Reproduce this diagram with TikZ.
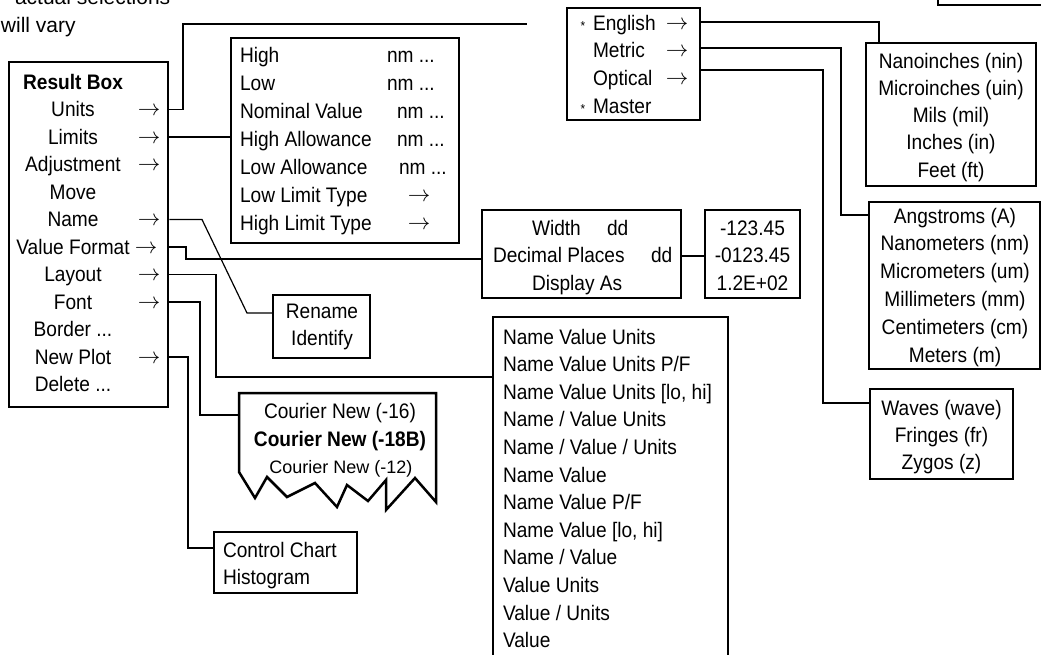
\documentclass[tikz,border=0pt]{standalone}
\usepackage{fontspec}
\setmainfont[FakeStretch=0.91]{Liberation Sans}
\newfontfamily\plainsans{Liberation Sans}
\newcommand\mybox[5]{\node[box, minimum width={#4-#2}, minimum height={#5-#3}] (#1) at ({(#2+#4)/2},{(#3+#5)/2}) {};}
\newcommand\tdots{...}
\newcommand\rarr{\resizebox{22.5pt}{!}{$\rightarrow$}}
\begin{document}
\begin{tikzpicture}[x=1pt,y=-1pt,
  font=\fontsize{21}{27}\selectfont,
  box/.style={draw, line width=2.5pt, inner sep=0pt},
  wire/.style={line width=1.2pt},
  lb/.style={anchor=base, inner sep=0pt, outer sep=0pt},
  lbw/.style={anchor=base west, inner sep=0pt, outer sep=0pt}]
\useasboundingbox (0,0) rectangle (1041,654);
\clip (0,0) rectangle (1041,654);

% note
\node[lbw, font=\plainsans\fontsize{21}{27}\selectfont] (note1) at (15,4) {actual selections};
\node[lbw, font=\plainsans\fontsize{21}{27}\selectfont] (note2) at (1,32) {will vary};

% boxes
\mybox{rb}{9}{62}{168}{407}
\mybox{lim}{231}{38}{459}{243}
\mybox{eng}{567}{8}{700}{120}
\mybox{nano}{866}{43}{1036}{186}
\mybox{ang}{869}{202}{1040}{369}
\mybox{wav}{870}{389}{1013}{479}
\mybox{wid}{482}{210}{681}{298}
\mybox{val}{705}{210}{800}{298}
\mybox{ren}{273}{295}{370}{358}
\mybox{lay}{493}{317}{728}{700}
\mybox{cc}{214}{532}{357}{593}
\mybox{topb}{938}{-40}{1060}{5}

% font box with torn bottom
\draw[line width=2.5pt, line join=miter] (436,393) -- (239,393) -- (239,472) -- (255,498) -- (267,477) -- (287,497) -- (315,483) -- (337,507) -- (347,485) -- (368,501) -- (386,480) -- (386,510) -- (415,478) -- (436,502) -- cycle;
\coordinate (fontin) at (239,415);

% Result box
\foreach \t [count=\i from 0] in {{\textbf{Result Box}},Units,Limits,Adjustment,Move,Name,{Value Format},Layout,Font,{Border \tdots},{New Plot},{Delete \tdots}}
  \node[lb] (rbt\i) at (73,89+27.5*\i) {\t};
\foreach \i in {1,2,3,5,7,8,10}
  \node[lb] (rba\i) at (149,88+27.5*\i) {\rarr};
\node[lb] (rba6) at (146,88+27.5*6) {\rarr};

% Limits box
\foreach \t [count=\i from 0] in {High,Low,{Nominal Value},{High Allowance},{Low Allowance},{Low Limit Type},{High Limit Type}}
  \node[lbw] (limt\i) at (240,62+28*\i) {\t};
\node[lbw] (limn0) at (387,62) {nm \tdots};
\node[lbw] (limn1) at (387,90) {nm \tdots};
\node[lbw] (limn2) at (397,118) {nm \tdots};
\node[lbw] (limn3) at (397,146) {nm \tdots};
\node[lbw] (limn4) at (399,174) {nm \tdots};
\node[lb] (lima5) at (419,201) {\rarr};
\node[lb] (lima6) at (419,229) {\rarr};

% Units box
\foreach \t [count=\i from 0] in {English,Metric,Optical,Master}
  \node[lbw] (engt\i) at (593,30+27.7*\i) {\t};
\node[lb, font=\fontsize{13}{13}\selectfont] (engs0) at (583,30) {*};
\node[lb, font=\fontsize{13}{13}\selectfont] (engs3) at (583,113) {*};
\foreach \i in {0,1,2}
  \node[lb] (enga\i) at (677,29+27.7*\i) {\rarr};

% English units
\foreach \t [count=\i from 0] in {Nanoinches (nin),Microinches (uin),Mils (mil),Inches (in),Feet (ft)}
  \node[lb] (nanot\i) at (951,68+27.3*\i) {\t};
% Metric units
\foreach \t [count=\i from 0] in {Angstroms (A),Nanometers (nm),Micrometers (um),Millimeters (mm),Centimeters (cm),Meters (m)}
  \node[lb] (angt\i) at (955,223+27.8*\i) {\t};
% Optical units
\foreach \t [count=\i from 0] in {Waves (wave),Fringes (fr),Zygos (z)}
  \node[lb] (wavt\i) at (941.5,415+27*\i) {\t};

% Value format
\node[lbw] (widt0) at (532,235) {Width};
\node[lbw] (widd0) at (607,235) {dd};
\node[lbw] (widt1) at (493,262.5) {Decimal Places};
\node[lbw] (widd1) at (651,262.5) {dd};
\node[lbw] (widt2) at (532,290) {Display As};
\node[lb] (valt0) at (752.5,235) {-123.45};
\node[lb] (valt1) at (752.5,262.5) {-0123.45};
\node[lb] (valt2) at (752.5,290) {1.2E+02};

% Rename
\node[lb] (rent0) at (322,318) {Rename};
\node[lb] (rent1) at (322,345) {Identify};

% Fonts
\node[lb] (fnt0) at (340,418) {Courier New (-16)};
\node[lb] (fnt1) at (340,446) {\textbf{Courier New (-18B)}};
\node[lb, font=\plainsans\fontsize{18}{18}\selectfont] (fnt2) at (341,473) {Courier New (-12)};

% Layout list
\foreach \t [count=\i from 0] in {Name Value Units,Name Value Units P/F,{Name Value Units [lo, hi]},Name / Value Units,Name / Value / Units,Name Value,Name Value P/F,{Name Value [lo, hi]},Name / Value,Value Units,Value / Units,Value}
  \node[lbw] (layt\i) at (503,344+27.6*\i) {\t};

% New plot
\node[lbw] (cct0) at (223,557) {Control Chart};
\node[lbw] (cct1) at (223,584) {Histogram};

% connectors
\coordinate (unitsend) at (527,24);
\draw[wire] (rb.east |- 0,109.5) -| (183,24) -- (unitsend);
\draw[wire] (rb.east |- 0,137) -- (lim.west |- 0,137);
\draw[wire] (rb.east |- 0,219.5) -- (202,219.5) -- (247,313) -- (ren.west |- 0,313);
\draw[wire] (rb.east |- 0,247) -| (186,259) -- (wid.west |- 0,259);
\draw[wire] (rb.east |- 0,274.5) -| (216,377) -- (lay.west |- 0,377);
\draw[wire] (rb.east |- 0,302) -| (200,415) -- (fontin);
\draw[wire] (rb.east |- 0,357) -| (188,548) -- (cc.west |- 0,548);
\draw[wire] (wid.east |- 0,256) -- (val.west |- 0,256);
\draw[wire] (eng.east |- 0,22) -| (nano.north -| 879,0);
\draw[wire] (eng.east |- 0,48) -| (841,215) -- (ang.west |- 0,215);
\draw[wire] (eng.east |- 0,70) -| (823,403) -- (wav.west |- 0,403);
\end{tikzpicture}
\end{document}
